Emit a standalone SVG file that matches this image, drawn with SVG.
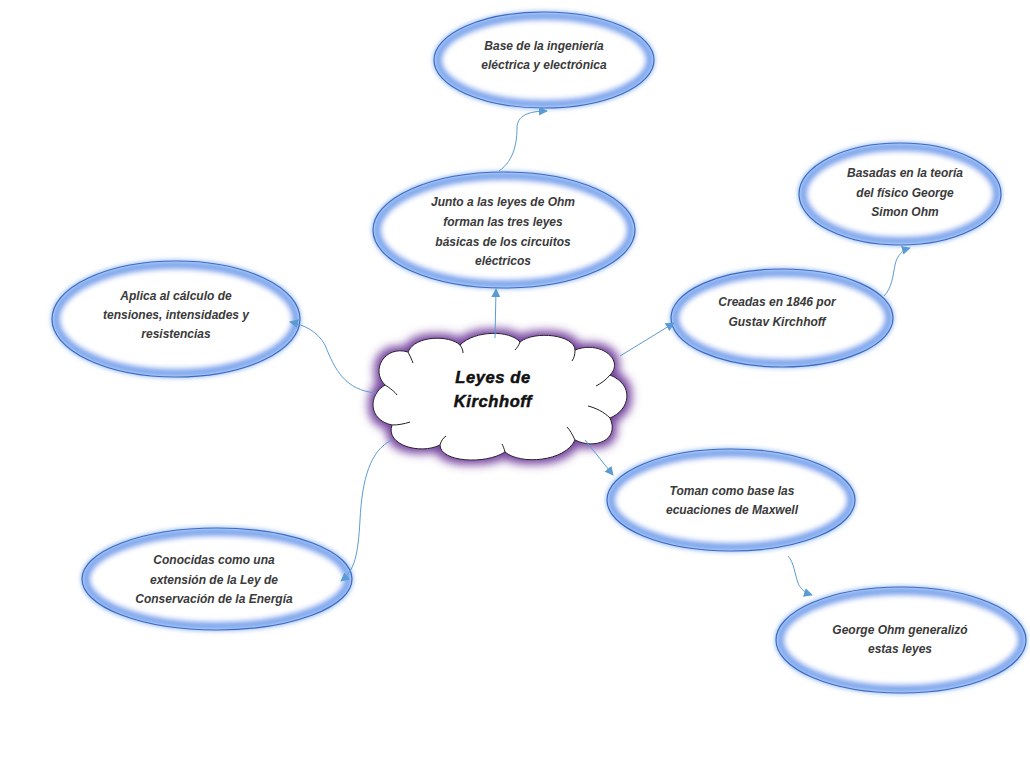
<svg xmlns="http://www.w3.org/2000/svg" width="1030" height="766" viewBox="0 0 1030 766">
<style>
.glow{fill:#ffffff;stroke:#7fa8ee;stroke-width:9;filter:url(#blur)}
.edge{fill:none;stroke:#3b6cc2;stroke-width:1.2}
.t{font-family:"Liberation Sans",Arial,sans-serif;font-style:italic;font-weight:bold;font-size:12px;fill:#3a3a3a;text-anchor:middle}
.ct{font-family:"Liberation Sans",Arial,sans-serif;font-style:italic;font-weight:bold;font-size:16.5px;fill:#111;text-anchor:middle;letter-spacing:0.6px;stroke:#111;stroke-width:0.5}
.c{fill:none;stroke:#5b9bd5;stroke-width:1;marker-end:url(#ah)}
</style>
<defs>
<filter id="blur" x="-20%" y="-20%" width="140%" height="140%">
<feGaussianBlur stdDeviation="2.5"/>
</filter>
<filter id="pglow" x="-20%" y="-30%" width="140%" height="160%">
<feMorphology in="SourceAlpha" operator="dilate" radius="4" result="d"/>
<feGaussianBlur in="d" stdDeviation="5" result="b"/>
<feFlood flood-color="#74419e"/>
<feComposite in2="b" operator="in" result="g"/>
<feMerge><feMergeNode in="g"/><feMergeNode in="SourceGraphic"/></feMerge>
</filter>
<marker id="ah" viewBox="0 0 10 10" refX="9" refY="5" markerWidth="9" markerHeight="9" markerUnits="userSpaceOnUse" orient="auto">
<path d="M0,0 L10,5 L0,10 Z" fill="#5b9bd5"/>
</marker>
</defs>
<rect width="1030" height="766" fill="#ffffff"/>

<g id="center">
<path filter="url(#pglow)" fill="#ffffff" stroke="#222" stroke-width="1" d="M385,385 C370,370 385,345 408,352 C415,335 450,335 460,345 C475,330 510,330 520,342 C535,330 575,335 575,350 C600,340 625,360 610,375 C635,385 630,410 610,418 C620,440 595,450 575,440 C565,462 520,465 505,452 C485,465 440,462 440,445 C420,455 385,445 392,425 C368,420 368,395 385,385 Z"/>
<path fill="none" stroke="#222" stroke-width="1" d="M385,385 C390,388 395,392 397,395 M408,352 C410,356 412,360 413,363 M460,345 C462,348 463,350 463,353 M520,342 C519,345 517,348 515,350 M575,350 C575,355 574,358 572,361 M610,375 C606,380 600,384 596,386 M610,418 C604,412 596,408 588,406 M575,440 C572,434 570,430 567,427 M505,452 C504,448 503,446 502,444 M440,445 C441,441 443,438 446,436 M392,425 C398,425 404,424 410,422"/>
<text class="ct" x="493" y="383">Leyes de</text>
<text class="ct" x="493" y="407">Kirchhoff</text>
</g>

<g id="n1">
<ellipse class="glow" cx="544" cy="60" rx="106" ry="44"/>
<ellipse class="edge" cx="544" cy="60" rx="110" ry="48"/>
<text class="t" x="544" y="50">Base de la ingeniería</text>
<text class="t" x="544" y="69">eléctrica y electrónica</text>
</g>

<g id="n2">
<ellipse class="glow" cx="504" cy="230" rx="127" ry="54"/>
<ellipse class="edge" cx="504" cy="230" rx="131" ry="58"/>
<text class="t" x="503" y="206">Junto a las leyes de Ohm</text>
<text class="t" x="503" y="226">forman las tres leyes</text>
<text class="t" x="503" y="246">básicas de los circuitos</text>
<text class="t" x="503" y="265">eléctricos</text>
</g>

<g id="n3">
<ellipse class="glow" cx="176" cy="319" rx="120" ry="54"/>
<ellipse class="edge" cx="176" cy="319" rx="124" ry="58"/>
<text class="t" x="176" y="300">Aplica al cálculo de</text>
<text class="t" x="176" y="319">tensiones, intensidades y</text>
<text class="t" x="176" y="338">resistencias</text>
</g>

<g id="n4">
<ellipse class="glow" cx="217" cy="579" rx="131" ry="47"/>
<ellipse class="edge" cx="217" cy="579" rx="135" ry="51"/>
<text class="t" x="214" y="564">Conocidas como una</text>
<text class="t" x="214" y="584">extensión de la Ley de</text>
<text class="t" x="214" y="603">Conservación de la Energía</text>
</g>

<g id="n5">
<ellipse class="glow" cx="731" cy="500" rx="120" ry="47"/>
<ellipse class="edge" cx="731" cy="500" rx="124" ry="51"/>
<text class="t" x="732" y="495">Toman como base las</text>
<text class="t" x="732" y="514">ecuaciones de Maxwell</text>
</g>

<g id="n6">
<ellipse class="glow" cx="901" cy="640" rx="121" ry="49"/>
<ellipse class="edge" cx="901" cy="640" rx="125" ry="53"/>
<text class="t" x="900" y="634">George Ohm generalizó</text>
<text class="t" x="900" y="653">estas leyes</text>
</g>

<g id="n7">
<ellipse class="glow" cx="782" cy="318" rx="107" ry="45"/>
<ellipse class="edge" cx="782" cy="318" rx="111" ry="49"/>
<text class="t" x="777" y="306">Creadas en 1846 por</text>
<text class="t" x="777" y="326">Gustav Kirchhoff</text>
</g>

<g id="n8">
<ellipse class="glow" cx="900" cy="194" rx="97" ry="47"/>
<ellipse class="edge" cx="900" cy="194" rx="101" ry="51"/>
<text class="t" x="905" y="177">Basadas en la teoría</text>
<text class="t" x="905" y="197">del físico George</text>
<text class="t" x="905" y="216">Simon Ohm</text>
</g>

<g id="connectors">
<path class="c" d="M495,338 L496,289"/>
<path class="c" d="M499,171 C515,160 517,140 517,128 C517,116 528,111 547,111"/>
<path class="c" d="M376,393 C345,390 335,370 325,345 C318,332 305,325 290,322"/>
<path class="c" d="M392,440 C370,450 362,480 360,520 C358,555 355,570 341,581"/>
<path class="c" d="M620,356 L674,323"/>
<path class="c" d="M884,296 C892,288 893,275 895,265 C897,255 903,250 910,248"/>
<path class="c" d="M585,440 L613,475"/>
<path class="c" d="M788,556 C794,562 795,575 798,583 C801,590 806,593 812,595"/>
</g>
</svg>
